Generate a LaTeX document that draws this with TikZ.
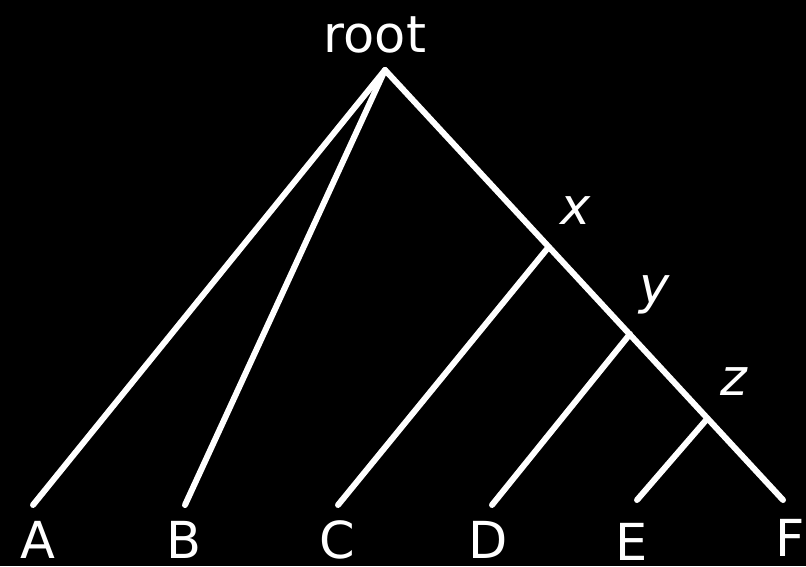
\documentclass[tikz,border=0pt]{standalone}
\usepackage{fontspec}
\setmainfont{DejaVu Sans}
\usetikzlibrary{positioning}

\begin{document}
\begin{tikzpicture}[x=0.5pt,y=-0.5pt,line width=3pt,line cap=round,
  lbl/.style={text=white,font=\fontsize{25.5}{30}\selectfont,inner sep=0pt,anchor=base},
  inn/.style={lbl,font=\fontsize{25.5}{30}\selectfont\itshape}]
  \fill[black] (0,0) rectangle (806,566);
  % tree points
  \coordinate (R) at (385,70);
  \coordinate (X) at (547,249);
  \coordinate (Y) at (630,334);
  \coordinate (Z) at (707,419);
  \coordinate (a) at (33,505);
  \coordinate (b) at (185,505);
  \coordinate (c) at (338,505);
  \coordinate (d) at (492,505);
  \coordinate (e) at (637,500);
  \coordinate (f) at (783,500);

  % labels
  \node[lbl] (Rl) at (375,53) {root};
  \node[inn] (Xl) at (576,225) {x};
  \node[inn] (Yl) at (655,303) {y};
  \node[inn] (Zl) at (734,395) {z};
  \node[lbl] (A) at (38,558) {A};
  \node[lbl] (B) at (184,558) {B};
  \node[lbl] (C) at (337,558) {C};
  \node[lbl] (D) at (488,558) {D};
  \node[lbl] (E) at (632,560) {E};
  \node[lbl] (F) at (790,556) {F};

  \path[draw=white]
    (R) edge (a)
        edge (b)
        edge (f)
    (X) edge (c)
    (Y) edge (d)
    (Z) edge (e);
\end{tikzpicture}
\end{document}
